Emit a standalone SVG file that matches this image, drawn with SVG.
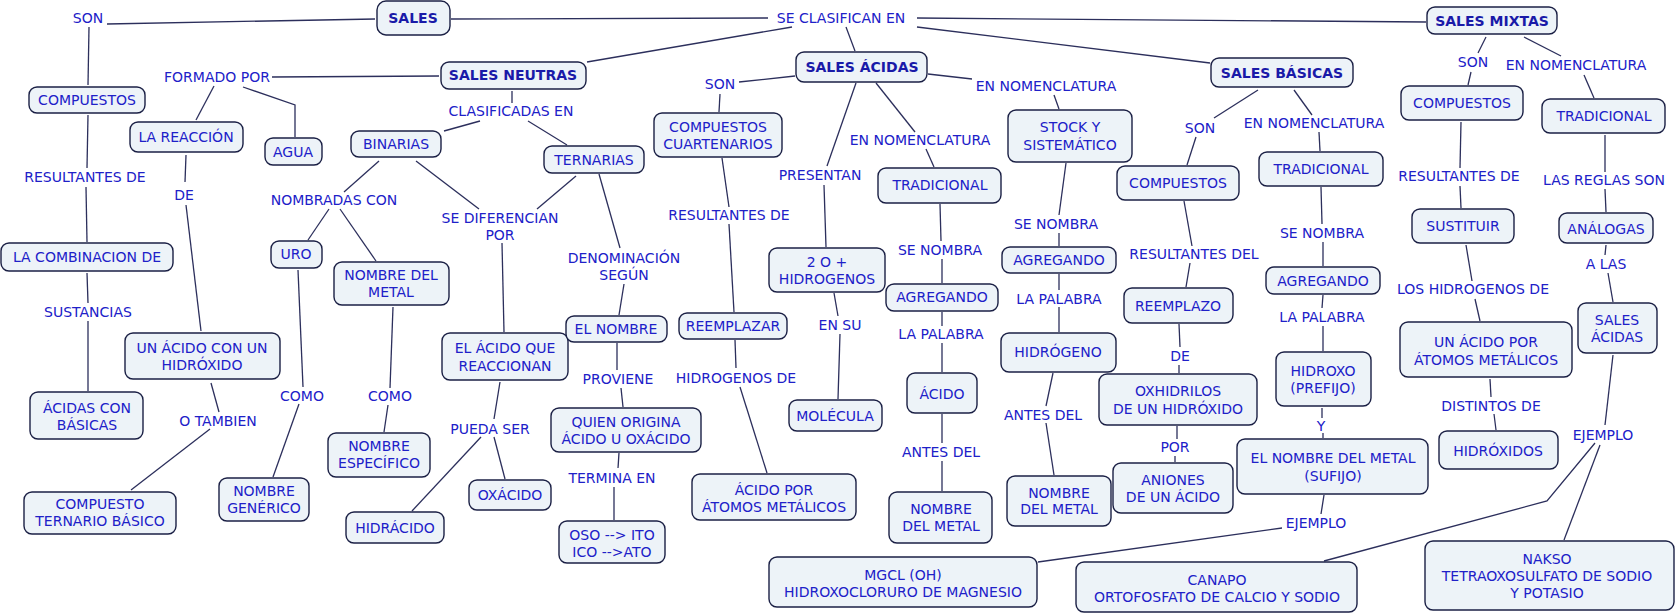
<svg xmlns="http://www.w3.org/2000/svg" width="1677" height="615" viewBox="0 0 1677 615">
<style>
.n rect{fill:#edf3f8;stroke:#1b2045;stroke-width:1.4}
text{font-family:"DejaVu Sans",Verdana,sans-serif;font-size:14px;fill:#2020c8;text-anchor:middle}
.b{font-weight:bold;fill:#1a1aa8}
#connectors polyline{fill:none;stroke:#2c2f5c;stroke-width:1.3}
</style>
<rect width="1677" height="615" fill="#ffffff"/>
<g id="connectors">
<polyline points="107,24 375,19"/>
<polyline points="89,27 88,85"/>
<polyline points="88,115 87,168"/>
<polyline points="86,187 87,242"/>
<polyline points="87,273 88,303"/>
<polyline points="88,321 88,391"/>
<polyline points="272,77 439,76"/>
<polyline points="214,86 196,120"/>
<polyline points="243,87 295,105 295,137"/>
<polyline points="512,91 512,103"/>
<polyline points="480,121 444,131"/>
<polyline points="528,121 567,145"/>
<polyline points="186,155 185,182"/>
<polyline points="186,205 201,331"/>
<polyline points="211,383 219,412"/>
<polyline points="210,429 131,490"/>
<polyline points="379,161 344,192"/>
<polyline points="416,161 479,209"/>
<polyline points="576,176 537,209"/>
<polyline points="329,209 308,240"/>
<polyline points="340,209 376,261"/>
<polyline points="298,270 303,387"/>
<polyline points="393,307 390,388"/>
<polyline points="299,404 273,477"/>
<polyline points="388,405 384,432"/>
<polyline points="502,243 504,332"/>
<polyline points="500,382 494,419"/>
<polyline points="481,437 412,511"/>
<polyline points="494,437 505,479"/>
<polyline points="451,19 768,18"/>
<polyline points="792,27 587,62"/>
<polyline points="846,27 855,51"/>
<polyline points="917,18 1426,22"/>
<polyline points="917,27 1210,63"/>
<polyline points="739,82 795,76"/>
<polyline points="720,94 719,112"/>
<polyline points="722,158 729,207"/>
<polyline points="729,224 734,312"/>
<polyline points="735,340 736,368"/>
<polyline points="740,387 767,473"/>
<polyline points="599,174 620,248"/>
<polyline points="624,284 619,315"/>
<polyline points="617,343 617,370"/>
<polyline points="621,388 623,407"/>
<polyline points="619,453 618,468"/>
<polyline points="614,487 614,520"/>
<polyline points="856,83 827,166"/>
<polyline points="824,185 826,247"/>
<polyline points="834,293 838,316"/>
<polyline points="840,334 838,399"/>
<polyline points="876,83 915,132"/>
<polyline points="926,149 934,167"/>
<polyline points="940,204 941,241"/>
<polyline points="942,259 942,283"/>
<polyline points="942,312 942,326"/>
<polyline points="942,343 942,372"/>
<polyline points="942,414 942,443"/>
<polyline points="942,461 942,491"/>
<polyline points="928,74 972,79"/>
<polyline points="1054,95 1059,109"/>
<polyline points="1066,163 1059,215"/>
<polyline points="1059,233 1059,246"/>
<polyline points="1059,274 1059,290"/>
<polyline points="1059,307 1059,332"/>
<polyline points="1053,373 1046,406"/>
<polyline points="1046,423 1054,475"/>
<polyline points="1258,90 1214,118"/>
<polyline points="1196,137 1187,165"/>
<polyline points="1294,90 1312,115"/>
<polyline points="1319,132 1320,151"/>
<polyline points="1321,187 1322,224"/>
<polyline points="1323,242 1323,266"/>
<polyline points="1323,295 1322,308"/>
<polyline points="1323,326 1323,351"/>
<polyline points="1322,408 1322,418"/>
<polyline points="1323,433 1323,438"/>
<polyline points="1324,495 1321,514"/>
<polyline points="1282,528 1038,562"/>
<polyline points="1184,201 1192,246"/>
<polyline points="1190,263 1186,287"/>
<polyline points="1179,324 1180,347"/>
<polyline points="1179,365 1179,373"/>
<polyline points="1177,426 1177,439"/>
<polyline points="1175,456 1175,462"/>
<polyline points="1486,37 1478,53"/>
<polyline points="1471,72 1468,85"/>
<polyline points="1524,37 1561,56"/>
<polyline points="1584,75 1594,98"/>
<polyline points="1461,122 1460,168"/>
<polyline points="1460,186 1461,208"/>
<polyline points="1466,245 1472,281"/>
<polyline points="1475,299 1480,321"/>
<polyline points="1490,379 1491,397"/>
<polyline points="1494,414 1496,430"/>
<polyline points="1605,135 1605,172"/>
<polyline points="1605,189 1606,212"/>
<polyline points="1606,245 1605,255"/>
<polyline points="1608,273 1613,302"/>
<polyline points="1613,355 1605,425"/>
<polyline points="1595,443 1547,501 1324,561"/>
<polyline points="1600,445 1564,540"/>
</g>
<g id="link-labels">
<text x="88" y="23">SON</text>
<text x="841" y="23">SE CLASIFICAN EN</text>
<text x="217" y="82">FORMADO POR</text>
<text x="511" y="116">CLASIFICADAS EN</text>
<text x="85" y="182">RESULTANTES DE</text>
<text x="184" y="200">DE</text>
<text x="334" y="205">NOMBRADAS CON</text>
<text x="500" y="223">SE DIFERENCIAN</text>
<text x="500" y="240">POR</text>
<text x="88" y="317">SUSTANCIAS</text>
<text x="218" y="426">O TAMBIEN</text>
<text x="302" y="401">COMO</text>
<text x="390" y="401">COMO</text>
<text x="490" y="434">PUEDA SER</text>
<text x="720" y="89">SON</text>
<text x="920" y="145">EN NOMENCLATURA</text>
<text x="820" y="180">PRESENTAN</text>
<text x="729" y="220">RESULTANTES DE</text>
<text x="624" y="263">DENOMINACIÓN</text>
<text x="624" y="280">SEGÚN</text>
<text x="940" y="255">SE NOMBRA</text>
<text x="840" y="330">EN SU</text>
<text x="941" y="339">LA PALABRA</text>
<text x="618" y="384">PROVIENE</text>
<text x="736" y="383">HIDROGENOS DE</text>
<text x="941" y="457">ANTES DEL</text>
<text x="612" y="483">TERMINA EN</text>
<text x="1046" y="91">EN NOMENCLATURA</text>
<text x="1056" y="229">SE NOMBRA</text>
<text x="1059" y="304">LA PALABRA</text>
<text x="1043" y="420">ANTES DEL</text>
<text x="1200" y="133">SON</text>
<text x="1314" y="128">EN NOMENCLATURA</text>
<text x="1322" y="238">SE NOMBRA</text>
<text x="1194" y="259">RESULTANTES DEL</text>
<text x="1322" y="322">LA PALABRA</text>
<text x="1180" y="361">DE</text>
<text x="1321" y="431">Y</text>
<text x="1175" y="452">POR</text>
<text x="1316" y="528">EJEMPLO</text>
<text x="1473" y="67">SON</text>
<text x="1576" y="70">EN NOMENCLATURA</text>
<text x="1459" y="181">RESULTANTES DE</text>
<text x="1604" y="185">LAS REGLAS SON</text>
<text x="1606" y="269">A LAS</text>
<text x="1473" y="294">LOS HIDROGENOS DE</text>
<text x="1491" y="411">DISTINTOS DE</text>
<text x="1603" y="440">EJEMPLO</text>
</g>
<g id="n-sales" class="n"><rect x="377" y="1" width="73" height="34" rx="9"/><text class="b" x="413" y="23">SALES</text></g>
<g id="n-mixtas" class="n"><rect x="1427" y="7" width="130" height="27" rx="8"/><text class="b" x="1492" y="26">SALES MIXTAS</text></g>
<g id="n-neutras" class="n"><rect x="441" y="62" width="145" height="27" rx="8"/><text class="b" x="513" y="80">SALES NEUTRAS</text></g>
<g id="n-acidas" class="n"><rect x="796" y="52" width="131" height="30" rx="8"/><text class="b" x="862" y="72">SALES ÁCIDAS</text></g>
<g id="n-basicas" class="n"><rect x="1211" y="58" width="142" height="29" rx="8"/><text class="b" x="1282" y="78">SALES BÁSICAS</text></g>
<g id="n-compuestos1" class="n"><rect x="29" y="87" width="116" height="26" rx="8"/><text x="87" y="105">COMPUESTOS</text></g>
<g id="n-reaccion" class="n"><rect x="130" y="122" width="113" height="30" rx="8"/><text x="186" y="142">LA REACCIÓN</text></g>
<g id="n-agua" class="n"><rect x="265" y="138" width="57" height="27" rx="8"/><text x="293" y="157">AGUA</text></g>
<g id="n-binarias" class="n"><rect x="351" y="131" width="90" height="26" rx="8"/><text x="396" y="149">BINARIAS</text></g>
<g id="n-ternarias" class="n"><rect x="544" y="146" width="100" height="27" rx="8"/><text x="594" y="165">TERNARIAS</text></g>
<g id="n-combinacion" class="n"><rect x="1" y="243" width="172" height="28" rx="8"/><text x="87" y="262">LA COMBINACION DE</text></g>
<g id="n-uro" class="n"><rect x="271" y="241" width="51" height="27" rx="8"/><text x="296" y="259">URO</text></g>
<g id="n-nombremetal1" class="n"><rect x="334" y="262" width="115" height="43" rx="8"/><text x="391" y="280">NOMBRE DEL</text><text x="391" y="297">METAL</text></g>
<g id="n-acidoconhidroxido" class="n"><rect x="125" y="333" width="155" height="46" rx="8"/><text x="202" y="353">UN ÁCIDO CON UN</text><text x="202" y="370">HIDRÓXIDO</text></g>
<g id="n-acidoquereaccionan" class="n"><rect x="442" y="333" width="126" height="47" rx="8"/><text x="505" y="353">EL ÁCIDO QUE</text><text x="505" y="371">REACCIONAN</text></g>
<g id="n-acidasconbasicas" class="n"><rect x="30" y="392" width="113" height="47" rx="8"/><text x="87" y="413">ÁCIDAS CON</text><text x="87" y="430">BÁSICAS</text></g>
<g id="n-compternario" class="n"><rect x="24" y="492" width="152" height="42" rx="8"/><text x="100" y="509">COMPUESTO</text><text x="100" y="526">TERNARIO BÁSICO</text></g>
<g id="n-generico" class="n"><rect x="219" y="478" width="90" height="43" rx="8"/><text x="264" y="496">NOMBRE</text><text x="264" y="513">GENÉRICO</text></g>
<g id="n-especifico" class="n"><rect x="328" y="433" width="102" height="44" rx="8"/><text x="379" y="451">NOMBRE</text><text x="379" y="468">ESPECÍFICO</text></g>
<g id="n-hidracido" class="n"><rect x="346" y="512" width="98" height="31" rx="8"/><text x="395" y="533">HIDRÁCIDO</text></g>
<g id="n-oxacido" class="n"><rect x="469" y="480" width="82" height="30" rx="8"/><text x="510" y="500">OXÁCIDO</text></g>
<g id="n-cuartenarios" class="n"><rect x="654" y="113" width="128" height="44" rx="8"/><text x="718" y="132">COMPUESTOS</text><text x="718" y="149">CUARTENARIOS</text></g>
<g id="n-tradicional1" class="n"><rect x="878" y="168" width="123" height="35" rx="8"/><text x="940" y="190">TRADICIONAL</text></g>
<g id="n-2omas" class="n"><rect x="769" y="248" width="116" height="44" rx="8"/><text x="827" y="267">2 O +</text><text x="827" y="284">HIDROGENOS</text></g>
<g id="n-agregando1" class="n"><rect x="886" y="284" width="112" height="27" rx="8"/><text x="942" y="302">AGREGANDO</text></g>
<g id="n-elnombre" class="n"><rect x="566" y="316" width="101" height="26" rx="8"/><text x="616" y="334">EL NOMBRE</text></g>
<g id="n-reemplazar" class="n"><rect x="679" y="313" width="108" height="26" rx="8"/><text x="733" y="331">REEMPLAZAR</text></g>
<g id="n-acido" class="n"><rect x="907" y="373" width="70" height="40" rx="8"/><text x="942" y="399">ÁCIDO</text></g>
<g id="n-quienorigina" class="n"><rect x="551" y="408" width="150" height="44" rx="8"/><text x="626" y="427">QUIEN ORIGINA</text><text x="626" y="444">ÁCIDO U OXÁCIDO</text></g>
<g id="n-molecula" class="n"><rect x="789" y="400" width="93" height="31" rx="8"/><text x="835" y="421">MOLÉCULA</text></g>
<g id="n-acidoporatomos1" class="n"><rect x="692" y="474" width="164" height="46" rx="8"/><text x="774" y="495">ÁCIDO POR</text><text x="774" y="512">ÁTOMOS METÁLICOS</text></g>
<g id="n-nombremetal2" class="n"><rect x="889" y="492" width="103" height="51" rx="8"/><text x="941" y="514">NOMBRE</text><text x="941" y="531">DEL METAL</text></g>
<g id="n-oso" class="n"><rect x="559" y="521" width="106" height="42" rx="8"/><text x="612" y="540">OSO --&gt; ITO</text><text x="612" y="557">ICO --&gt;ATO</text></g>
<g id="n-stock" class="n"><rect x="1008" y="110" width="124" height="52" rx="8"/><text x="1070" y="132">STOCK Y</text><text x="1070" y="150">SISTEMÁTICO</text></g>
<g id="n-agregando2" class="n"><rect x="1002" y="247" width="114" height="26" rx="8"/><text x="1059" y="265">AGREGANDO</text></g>
<g id="n-hidrogeno" class="n"><rect x="1001" y="333" width="115" height="39" rx="8"/><text x="1058" y="357">HIDRÓGENO</text></g>
<g id="n-nombremetal3" class="n"><rect x="1007" y="476" width="104" height="50" rx="8"/><text x="1059" y="498">NOMBRE</text><text x="1059" y="514">DEL METAL</text></g>
<g id="n-compuestos2" class="n"><rect x="1117" y="166" width="122" height="34" rx="8"/><text x="1178" y="188">COMPUESTOS</text></g>
<g id="n-tradicional2" class="n"><rect x="1259" y="152" width="124" height="34" rx="8"/><text x="1321" y="174">TRADICIONAL</text></g>
<g id="n-agregando3" class="n"><rect x="1266" y="267" width="114" height="27" rx="8"/><text x="1323" y="286">AGREGANDO</text></g>
<g id="n-reemplazo" class="n"><rect x="1124" y="288" width="109" height="35" rx="8"/><text x="1178" y="311">REEMPLAZO</text></g>
<g id="n-hidroxo" class="n"><rect x="1276" y="352" width="95" height="54" rx="8"/><text x="1323" y="376">HIDROXO</text><text x="1323" y="393">(PREFIJO)</text></g>
<g id="n-oxhidrilos" class="n"><rect x="1099" y="374" width="158" height="51" rx="8"/><text x="1178" y="396">OXHIDRILOS</text><text x="1178" y="414">DE UN HIDRÓXIDO</text></g>
<g id="n-aniones" class="n"><rect x="1113" y="463" width="120" height="50" rx="8"/><text x="1173" y="485">ANIONES</text><text x="1173" y="502">DE UN ÁCIDO</text></g>
<g id="n-nombremetalsufijo" class="n"><rect x="1237" y="439" width="191" height="55" rx="8"/><text x="1333" y="463">EL NOMBRE DEL METAL</text><text x="1333" y="481">(SUFIJO)</text></g>
<g id="n-compuestos3" class="n"><rect x="1401" y="86" width="122" height="34" rx="8"/><text x="1462" y="108">COMPUESTOS</text></g>
<g id="n-tradicional3" class="n"><rect x="1542" y="99" width="123" height="34" rx="8"/><text x="1604" y="121">TRADICIONAL</text></g>
<g id="n-sustituir" class="n"><rect x="1412" y="209" width="102" height="34" rx="8"/><text x="1463" y="231">SUSTITUIR</text></g>
<g id="n-analogas" class="n"><rect x="1559" y="213" width="94" height="30" rx="8"/><text x="1606" y="234">ANÁLOGAS</text></g>
<g id="n-salesacidas2" class="n"><rect x="1578" y="303" width="79" height="50" rx="8"/><text x="1617" y="325">SALES</text><text x="1617" y="342">ÁCIDAS</text></g>
<g id="n-acidoporatomos2" class="n"><rect x="1400" y="322" width="172" height="55" rx="8"/><text x="1486" y="347">UN ÁCIDO POR</text><text x="1486" y="365">ÁTOMOS METÁLICOS</text></g>
<g id="n-hidroxidos" class="n"><rect x="1439" y="431" width="119" height="38" rx="8"/><text x="1498" y="456">HIDRÓXIDOS</text></g>
<g id="n-mgcl" class="n"><rect x="769" y="557" width="268" height="50" rx="8"/><text x="903" y="580">MGCL (OH)</text><text x="903" y="597">HIDROXOCLORURO DE MAGNESIO</text></g>
<g id="n-canapo" class="n"><rect x="1076" y="562" width="281" height="50" rx="8"/><text x="1217" y="585">CANAPO</text><text x="1217" y="602">ORTOFOSFATO DE CALCIO Y SODIO</text></g>
<g id="n-nakso" class="n"><rect x="1425" y="541" width="249" height="69" rx="8"/><text x="1547" y="564">NAKSO</text><text x="1547" y="581">TETRAOXOSULFATO DE SODIO</text><text x="1547" y="598">Y POTASIO</text></g>
</svg>
